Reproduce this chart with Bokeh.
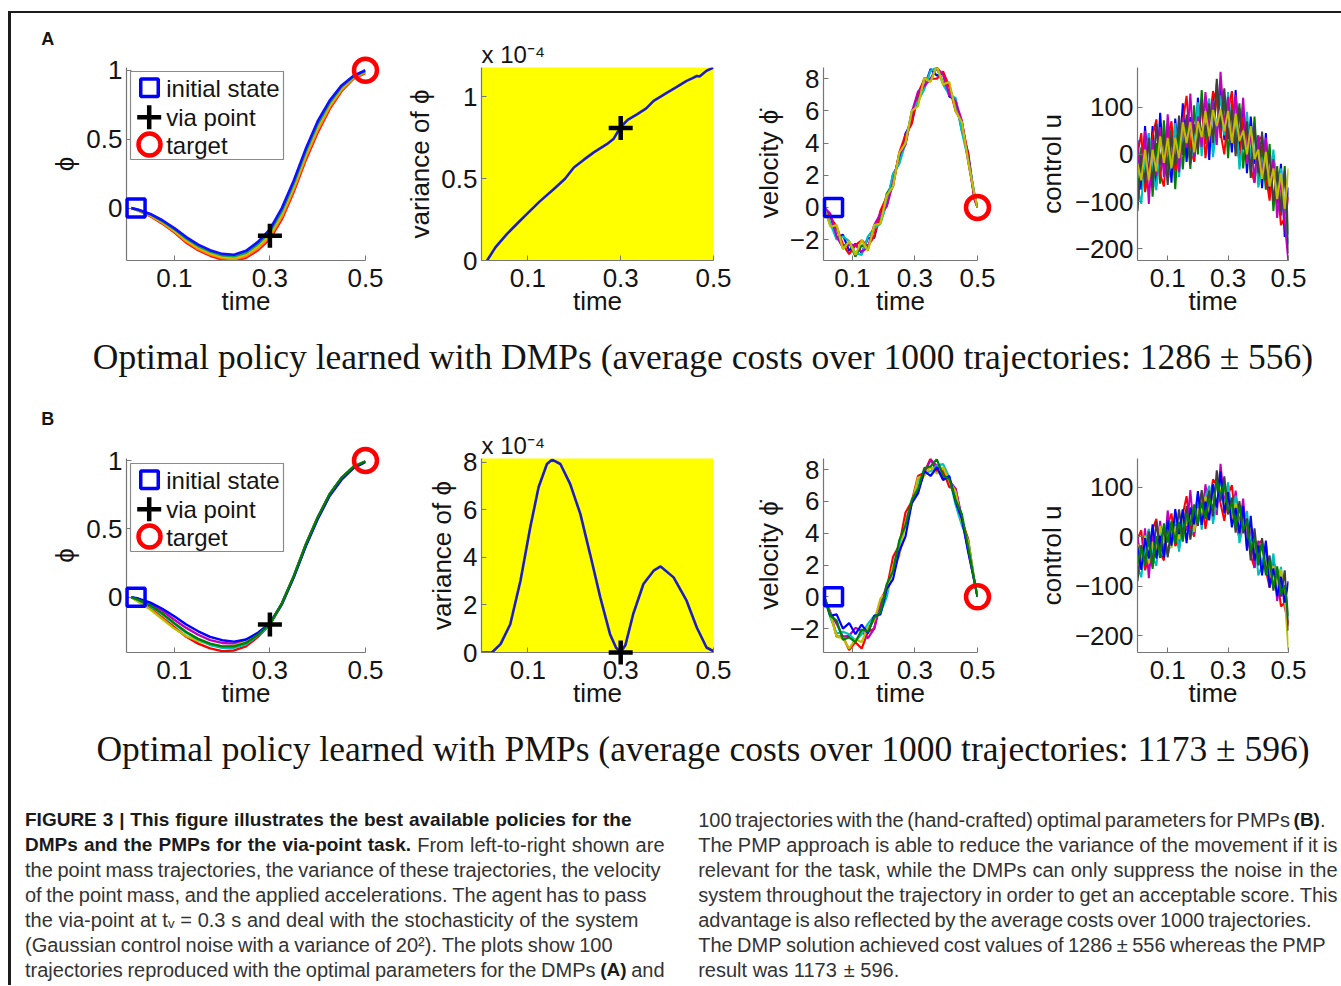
from bokeh.plotting import figure
from bokeh.models import (Range1d, Label, BoxAnnotation, FixedTicker, CustomJSTickFormatter,
                          Spacer, ColumnDataSource)
from bokeh.layouts import row, column
from bokeh.core.properties import value
from bokeh.embed import file_html
from bokeh.resources import INLINE

# ======================= DATA =======================
time_ticks = [0.1, 0.3, 0.5]

# --- position phi (rows A and B) ---
phi_t = [0.01, 0.025, 0.05, 0.075, 0.1, 0.125, 0.15, 0.175, 0.2, 0.225, 0.25,
         0.275, 0.3, 0.325, 0.35, 0.375, 0.4, 0.425, 0.45, 0.475, 0.5]
phi_A_blue = [0, -0.012, -0.042, -0.088, -0.145, -0.21, -0.265, -0.305, -0.332, -0.338, -0.31,
              -0.245, -0.155, 0.0, 0.2, 0.43, 0.63, 0.78, 0.89, 0.96, 1.0]
phi_A_green = [0, -0.014, -0.046, -0.094, -0.152, -0.22, -0.275, -0.315, -0.342, -0.349, -0.323,
               -0.26, -0.172, -0.02, 0.18, 0.41, 0.61, 0.765, 0.88, 0.955, 0.995]
phi_A_yellow = [0, -0.015, -0.05, -0.10, -0.16, -0.23, -0.285, -0.325, -0.352, -0.36, -0.335,
                -0.275, -0.19, -0.04, 0.16, 0.39, 0.59, 0.75, 0.87, 0.95, 0.99]
phi_A_orange = [0, -0.016, -0.054, -0.106, -0.168, -0.24, -0.295, -0.335, -0.362, -0.371, -0.347,
                -0.29, -0.208, -0.06, 0.14, 0.37, 0.57, 0.735, 0.86, 0.945, 0.985]
phi_A_red = [0, -0.018, -0.058, -0.112, -0.175, -0.25, -0.305, -0.345, -0.372, -0.382, -0.36,
             -0.305, -0.225, -0.08, 0.12, 0.35, 0.55, 0.72, 0.85, 0.94, 0.98]

phi_B_red = [0, -0.03, -0.08, -0.15, -0.22, -0.29, -0.34, -0.375, -0.395, -0.39, -0.36,
             -0.29, -0.2, -0.055, 0.15, 0.38, 0.58, 0.75, 0.87, 0.95, 0.99]
phi_B_magenta = [0, -0.015, -0.05, -0.10, -0.165, -0.225, -0.275, -0.315, -0.335, -0.34, -0.32,
                 -0.265, -0.195, -0.045, 0.155, 0.385, 0.585, 0.755, 0.875, 0.955, 0.995]
phi_B_blue = [0, -0.01, -0.04, -0.085, -0.14, -0.2, -0.25, -0.29, -0.315, -0.325, -0.31,
              -0.26, -0.19, -0.05, 0.145, 0.37, 0.57, 0.74, 0.86, 0.945, 0.99]
phi_B_yellow = [0, -0.035, -0.09, -0.16, -0.23, -0.285, -0.32, -0.345, -0.36, -0.355, -0.325,
                -0.27, -0.195, -0.05, 0.15, 0.38, 0.58, 0.75, 0.87, 0.95, 0.99]
phi_B_cyan = [0, -0.02, -0.065, -0.125, -0.195, -0.26, -0.31, -0.35, -0.37, -0.37, -0.345,
              -0.28, -0.2, -0.05, 0.15, 0.38, 0.58, 0.75, 0.87, 0.95, 0.99]
phi_B_green = [0, -0.02, -0.06, -0.12, -0.19, -0.255, -0.305, -0.34, -0.36, -0.36, -0.335,
               -0.275, -0.195, -0.045, 0.155, 0.385, 0.585, 0.755, 0.875, 0.955, 0.995]

start_t = [0.02]
start_phi = [0.0]
via_t = [0.3]
via_phi = [-0.2]
target_t = [0.5]
target_phi = [1.0]

# --- variance of phi (units of 1e-4) ---
var_A_t = [0.012, 0.03, 0.055, 0.075, 0.098, 0.125, 0.156, 0.18, 0.199, 0.22, 0.242, 0.27, 0.285,
           0.299, 0.315, 0.335, 0.355, 0.371, 0.4, 0.42, 0.442, 0.455, 0.464, 0.47, 0.485, 0.5]
var_A = [0.0, 0.08, 0.163, 0.22, 0.285, 0.36, 0.437, 0.50, 0.569, 0.615, 0.661, 0.711, 0.745,
         0.813, 0.86, 0.894, 0.93, 0.976, 1.027, 1.06, 1.098, 1.115, 1.128, 1.125, 1.16, 1.179]
var_B_t = [0.0, 0.023, 0.041, 0.062, 0.084, 0.105, 0.123, 0.141, 0.152, 0.170, 0.191, 0.213, 0.234,
           0.256, 0.277, 0.29, 0.30, 0.31, 0.327, 0.349, 0.371, 0.386, 0.414, 0.442, 0.464, 0.485, 0.5]
var_B = [0.0, 0.01, 0.35, 1.19, 3.02, 5.26, 6.95, 7.93, 8.11, 7.93, 7.09, 5.83, 4.14,
         2.32, 0.77, 0.2, 0.02, 0.3, 1.62, 2.88, 3.44, 3.62, 3.16, 2.18, 1.05, 0.21, 0.05]
var_via_A = [0.81]
var_via_B = [0.0]

# --- velocity ---
vel_t = [0.01, 0.03, 0.05, 0.07, 0.09, 0.11, 0.13, 0.15, 0.17, 0.19, 0.21, 0.23, 0.25,
         0.27, 0.29, 0.31, 0.33, 0.35, 0.37, 0.39, 0.41, 0.43, 0.45, 0.47, 0.49, 0.5]
vel_A_blue = [0, -0.5, -1.9, -1.7, -2.7, -2.25, -2.85, -1.9, -1.9, -0.3, 0.15, 2.0, 2.8,
              4.6, 5.3, 7.0, 7.45, 8.6, 8.2, 8.35, 6.9, 6.7, 4.8, 3.4, 0.6, 0.0]
vel_A_green = [0, -1.1, -1.3, -2.4, -2.2, -3.05, -2.35, -2.6, -1.2, -0.9, 0.85, 1.5, 3.3,
               4.0, 5.8, 6.5, 8.05, 7.9, 8.7, 7.75, 7.6, 6.1, 5.3, 3.0, 0.8, 0.0]
vel_A_red = [0, -0.6, -1.2, -2.3, -2.9, -2.35, -2.05, -2.4, -1.8, -0.2, 0.65, 1.3, 3.4,
             4.5, 5.2, 7.1, 7.95, 8.0, 8.0, 8.45, 7.5, 6.0, 5.3, 3.3, 0.5, 0.0]
vel_A_cyan = [0, -1.0, -2.0, -1.8, -2.1, -2.85, -2.95, -1.8, -1.3, -1.0, 0.25, 2.1, 2.7,
              4.0, 6.0, 6.6, 7.35, 8.5, 8.7, 7.65, 7.0, 6.8, 4.7, 3.0, 0.9, 0.0]
vel_A_magenta = [0, -0.4, -1.8, -2.5, -2.3, -2.35, -2.75, -2.5, -1.1, -0.4, 0.05, 1.5, 3.3,
                 3.9, 5.9, 7.2, 7.55, 8.0, 8.7, 8.25, 7.0, 6.6, 5.4, 2.9, 0.7, 0.0]
vel_A_yellow = [0, -1.2, -1.1, -2.6, -2.1, -2.95, -2.05, -2.7, -1.1, -1.0, 0.75, 1.3, 3.4,
                4.0, 6.0, 6.3, 8.05, 7.8, 8.8, 7.65, 7.8, 6.0, 5.3, 2.9, 0.8, 0.0]

vel_B_red = [0, -1.0, -2.5, -2.5, -3.35, -2.85, -3.25, -2.2, -2.0, -0.2, 0.5, 2.5, 3.25,
             5.3, 6.0, 7.6, 7.8, 8.7, 7.85, 7.95, 6.9, 6.8, 4.8, 3.65, 1.0, 0]
vel_B_blue = [0, -1.2, -1.1, -2.0, -1.65, -2.35, -1.75, -2.3, -1.2, -1.1, 0.5, 1.1, 2.85,
              3.8, 5.9, 6.5, 7.9, 7.6, 8.15, 7.35, 7.6, 6.0, 4.9, 2.85, 1.0, 0]
vel_B_magenta = [0, -1.0, -1.7, -2.5, -2.45, -1.95, -2.15, -2.6, -2.0, -0.5, 0.7, 1.7, 2.95,
                 4.7, 5.9, 6.7, 7.8, 8.6, 8.25, 7.55, 7.3, 6.8, 5.0, 2.95, 1.0, 0]
vel_B_cyan = [0, -1.3, -2.3, -2.2, -2.35, -2.75, -2.35, -1.7, -1.2, -1.0, 0.0, 1.9, 3.25,
              4.5, 5.9, 7.3, 7.8, 7.9, 8.25, 8.35, 7.5, 5.8, 4.5, 3.55, 1.0, 0]
vel_B_yellow = [0, -1.1, -2.5, -2.6, -3.25, -2.65, -2.85, -1.9, -1.5, -0.1, 0.3, 1.9, 2.55,
                4.7, 5.8, 7.5, 7.6, 8.2, 7.75, 8.15, 7.3, 6.6, 4.7, 3.45, 1.0, 0]
vel_B_green = [0, -1.2, -1.5, -2.7, -2.55, -2.85, -2.05, -2.2, -1.3, -1.0, 0.8, 1.6, 3.55,
               4.5, 6.1, 6.8, 8.1, 8.2, 8.65, 7.65, 7.4, 6.1, 5.2, 3.15, 1.0, 0]

vel_start_t = [0.04]
vel_start = [0.0]
vel_end_t = [0.5]
vel_end = [0.0]

# --- control u ---
ctrl_t = [0.0, 0.0125, 0.025, 0.0375, 0.05, 0.0625, 0.075, 0.0875, 0.1, 0.1125, 0.125,
          0.1375, 0.15, 0.1625, 0.175, 0.1875, 0.2, 0.2125, 0.225, 0.2375, 0.25, 0.2625,
          0.275, 0.2875, 0.3, 0.3125, 0.325, 0.3375, 0.35, 0.3625, 0.375, 0.3875, 0.4,
          0.4125, 0.425, 0.4375, 0.45, 0.4625, 0.475, 0.4875, 0.5]
ctrl_A_blue = [30, -75, 60, -55, 60, -66, 88, -28, 55, -60, 76, -18, 108, -16, 79, -16, 120, 26, 122, -12,
               124, 40, 155, 30, 102, 4, 136, 8, 90, -40, 80, -20, 40, -72, 45, -88, -20, -105, -20, -175, -70]
ctrl_A_green = [-100, 15, -70, 45, -90, 24, -62, 72, -35, 60, -74, 62, -32, 64, -31, 104, 0, 136, 22, 98,
                14, 150, 35, 120, -8, 114, 26, 108, -30, 70, -30, 80, -60, 18, -75, 22, -120, -25, -130, -25, -170]
ctrl_A_red = [0, 45, -80, -35, 40, 74, -42, -68, 35, 70, -34, -8, 68, 124, 19, -16, 70, 106, -8, 58,
              134, 110, 45, 0, 92, 134, 26, -12, 80, 50, -30, -60, 30, 38, -45, -98, -10, -55, -150, -135, -90]
ctrl_A_cyan = [-70, -105, 0, 45, -40, -76, 38, 22, -55, -10, 66, -48, 38, 74, -11, 14, 110, -4, 92, 118,
               -6, 60, 125, 40, 132, 44, 106, -32, 30, 90, -10, 50, -70, -32, 25, -68, 10, -85, -30, -125, -190]
ctrl_A_magenta = [20, -55, 50, -105, 30, -46, 58, -48, 85, -20, 36, -38, 78, 14, 129, -6, 80, 16, 132, 38,
                  114, 20, 175, 60, 122, 24, 126, 28, 120, -20, 50, -60, 40, -52, 35, -58, -10, -135, -50, -145, -230]
ctrl_A_gray = [-120, -5, -60, 35, -70, 64, -22, 42, -65, 40, -24, 82, -2, 84, -21, 64, 10, 116, 42, 108,
               24, 160, 55, 140, 32, 94, -4, 98, 10, 70, -50, 60, -40, 48, -55, 2, -100, -35, -120, -35, -210]
ctrl_A_yellow = [-20, -55, 10, -55, 10, -36, 38, -18, 35, -30, 36, -8, 68, 24, 69, 4, 70, 36, 92, 38,
                 94, 60, 95, 50, 92, 24, 86, 28, 50, 0, 60, -10, 10, -52, 5, -68, -30, -95, -40, -115, -30]

ctrl_B_red = [-5, 13, -68, -39, 15, 36, -33, -48, 23, 47, -19, -5, 45, 82, 19, 0, 62, 89, 16, 63,
              116, 104, 67, 32, 85, 104, 28, -3, 52, 27, -38, -63, -13, -8, -68, -103, -49, -80, -141, -133, -180]
ctrl_B_magenta = [0, -52, 17, -84, 5, -39, 32, -38, 53, -13, 26, -25, 55, 12, 94, 5, 67, 29, 106, 48,
                  101, 44, 147, 67, 105, 34, 93, 22, 77, -23, 17, -63, -8, -68, -13, -78, -49, -130, -76, -143, -175]
ctrl_B_cyan = [-60, -82, -13, 16, -40, -59, 17, 12, -37, -8, 46, -30, 25, 52, -1, 20, 87, 14, 81, 103,
               26, 69, 117, 57, 110, 44, 83, -13, 22, 52, -23, 7, -78, -58, -18, -83, -34, -100, -61, -128, -165]
ctrl_B_yellow = [-15, -52, 2, -54, -10, -39, 22, -13, 23, -23, 21, -5, 50, 22, 54, 10, 57, 39, 81, 48,
                 91, 69, 97, 62, 85, 29, 68, 22, 32, -8, 27, -33, -28, -73, -33, -83, -59, -105, -66, -123, -230]
ctrl_B_gray = [-90, -17, -53, 11, -60, 31, -23, 22, -42, 27, -14, 55, 0, 62, -6, 55, 22, 94, 46, 93,
               41, 134, 72, 122, 45, 79, 8, 72, 7, 37, -48, 17, -58, -3, -73, -38, -109, -65, -121, -68, -190]
ctrl_B_blue = [-20, -67, -3, -44, 25, -44, 2, -43, 33, -18, 56, 5, 55, -13, 59, 25, 92, 24, 71, 33,
               106, 59, 132, 47, 90, 19, 58, 7, 62, -28, 42, -48, -18, -78, -8, -103, -64, -120, -81, -133, -90]
ctrl_B_green = [-55, -22, -58, -4, -65, 1, -43, 27, -12, 32, -14, 30, -10, 47, 24, 65, 27, 69, 36, 78,
                56, 114, 82, 107, 50, 69, 18, 62, 12, 32, -28, -3, -53, -13, -78, -48, -104, -60, -116, -98, -160]

legend_labels = ["initial state", "via point", "target"]
panel_letters = ["A", "B"]
variance_scale = "x 10\u207b\u2074"

title_A = "Optimal policy learned with DMPs (average costs over 1000 trajectories: 1286 \u00b1 556)"
title_B = "Optimal policy learned with PMPs (average costs over 1000 trajectories: 1173 \u00b1 596)"

caption_left = [
    ("**FIGURE 3 | This figure illustrates the best available policies for the**", 631),
    ("**DMPs and the PMPs for the via-point task.** From left-to-right shown are", 664),
    ("the point mass trajectories, the variance of these trajectories, the velocity", 660),
    ("of the point mass, and the applied accelerations. The agent has to pass", 646),
    ("the via-point at t\u1d65 = 0.3 s and deal with the stochasticity of the system", 638),
    ("(Gaussian control noise with a variance of 20\u00b2). The plots show 100", 612),
    ("trajectories reproduced with the optimal parameters for the DMPs **(A)** and", 664),
]
caption_right = [
    ("100 trajectories with the (hand-crafted) optimal parameters for PMPs **(B)**.", 1325),
    ("The PMP approach is able to reduce the variance of the movement if it is", 1337),
    ("relevant for the task, while the DMPs can only suppress the noise in the", 1337),
    ("system throughout the trajectory in order to get an acceptable score. This", 1337),
    ("advantage is also reflected by the average costs over 1000 trajectories.", 1311),
    ("The DMP solution achieved cost values of 1286 \u00b1 556 whereas the PMP", 1325),
    ("result was 1173 \u00b1 596.", None),
]

# ======================= STYLE =======================
SANS = "Liberation Sans"
SERIF = "Liberation Serif"
INK = "#141414"
AX = "#767676"
BAR = "#1c1c1c"
C_B, C_G, C_R, C_C, C_M, C_Y, C_K = "#0000ff", "#008000", "#ff0000", "#00bfbf", "#bf00bf", "#bfbf00", "#404040"
FMT = "return (tick < 0 ? '\u2212' : '') + String(Math.abs(tick));"


def panel(w, h, bl, br, bt, bb, xr, yr, yticks, ylabel, bg="#ffffff", ylab_standoff=3):
    p = figure(width=w, height=h, x_range=Range1d(*xr), y_range=Range1d(*yr),
               output_backend="svg", toolbar_location=None,
               min_border_left=bl, min_border_right=br, min_border_top=bt, min_border_bottom=bb,
               background_fill_color=bg, border_fill_color="#ffffff", outline_line_color=None)
    p.grid.visible = False
    for ax in (p.xaxis[0], p.yaxis[0]):
        ax.axis_line_color = AX
        ax.axis_line_width = 1.2
        ax.major_tick_line_color = AX
        ax.major_tick_in = 5
        ax.major_tick_out = 0
        ax.minor_tick_line_color = None
        ax.major_label_text_font = SANS
        ax.major_label_text_font_size = "26px"
        ax.major_label_text_color = INK
        ax.axis_label_text_font = SANS
        ax.axis_label_text_font_size = "26px"
        ax.axis_label_text_font_style = "normal"
        ax.axis_label_text_color = INK
        ax.formatter = CustomJSTickFormatter(code=FMT)
    p.xaxis[0].ticker = FixedTicker(ticks=time_ticks)
    p.xaxis[0].axis_label = "time"
    p.xaxis[0].major_label_standoff = 8
    p.xaxis[0].axis_label_standoff = -4
    p.yaxis[0].ticker = FixedTicker(ticks=yticks)
    p.yaxis[0].axis_label = ylabel
    p.yaxis[0].major_label_standoff = 4
    p.yaxis[0].axis_label_standoff = ylab_standoff
    return p


def set_title(p, text, size, offset, standoff):
    p.title.text = text
    p.title.align = "left"
    p.title.offset = offset
    p.title.standoff = standoff
    p.title.text_font = SANS
    p.title.text_font_size = size
    p.title.text_font_style = "normal"
    p.title.text_color = INK


def start_mark(p, xs, ys):
    p.scatter(xs, ys, marker="square", size=18, fill_color=None, line_color=C_B, line_width=3.5, level="overlay")


def via_mark(p, xs, ys):
    p.scatter(xs, ys, marker="cross", size=24, line_color="#000000", line_width=4.5, level="overlay")


def target_mark(p, xs, ys):
    p.scatter(xs, ys, marker="circle", size=23, fill_color=None, line_color=C_R, line_width=4.5, level="overlay")


def scr_box(p, l, r, b, t, **kw):
    p.add_layout(BoxAnnotation(left=l, right=r, bottom=b, top=t, left_units="screen", right_units="screen",
                               bottom_units="screen", top_units="screen", level="overlay", **kw))


def add_legend(p):
    scr_box(p, 4, 157, 101, 189, fill_color="#ffffff", fill_alpha=1.0, line_color="#8a8a8a",
            line_alpha=1.0, line_width=1.2)
    scr_box(p, 14.25, 31.75, 164, 181.5, fill_alpha=0.0, line_color=C_B, line_alpha=1.0, line_width=3.5)
    scr_box(p, 10.7, 34.7, 141.05, 145.55, fill_color="#000000", fill_alpha=1.0, line_alpha=0.0)
    scr_box(p, 20.45, 24.95, 131.3, 155.3, fill_color="#000000", fill_alpha=1.0, line_alpha=0.0)
    scr_box(p, 12, 34, 105, 127, fill_alpha=0.0, line_color=C_R, line_alpha=1.0, line_width=4.5,
            border_radius=11)
    for lab, y in zip(legend_labels, [171.7, 143.3, 115.0]):
        p.add_layout(Label(x=39.7, y=y, x_units="screen", y_units="screen", text=lab, text_font=SANS,
                           text_font_size="24px", text_color=INK, text_baseline="middle", level="overlay"))


def text_fig(w, h):
    p = figure(width=w, height=h, x_range=Range1d(0, w), y_range=Range1d(h, 0),
               x_axis_type=None, y_axis_type=None, output_backend="svg", toolbar_location=None,
               min_border=0, outline_line_color=None, background_fill_color="#ffffff",
               border_fill_color="#ffffff")
    p.grid.visible = False
    return p


def letter_block(total_w, h, letter, x, ymid):
    lw = 70
    p = text_fig(lw, h)
    p.add_layout(Label(x=x, y=ymid, text=letter, text_font=SANS, text_font_style="bold",
                       text_font_size="18px", text_color=INK, text_baseline="middle", text_align="left"))
    return row(p, Spacer(width=total_w - lw, height=h))


PHI = "\u03d5"

# ======================= ROW A =======================
HA, TA, BA = 312, 54, 65
LA = 42
pA1 = panel(389, HA - LA, 115, 35, TA - LA, BA, (0, 0.5), (-0.38, 1.02), [0, 0.5, 1], PHI)
for ys, c in [(phi_A_red, "#ff1010"), (phi_A_orange, "#ff8c00"), (phi_A_yellow, "#d2c200"),
              (phi_A_green, "#13a05a"), (phi_A_blue, "#1010ff")]:
    pA1.line(phi_t, ys, line_color=c, line_width=2.6)
start_mark(pA1, start_t, start_phi)
via_mark(pA1, via_t, via_phi)
target_mark(pA1, target_t, target_phi)
add_legend(pA1)
colA1 = column(letter_block(389, LA, panel_letters[0], 29.7, 25.5), pA1)

pA2 = panel(345, HA, 81, 32, TA, BA, (0, 0.5), (0, 1.18), [0, 0.5, 1], "variance of " + PHI, bg="#ffff00")
pA2.line(var_A_t, var_A, line_color="#1c1cc8", line_width=2.6)
via_mark(pA2, via_t, var_via_A)
set_title(pA2, variance_scale, "24px", 0, 0)

pA3 = panel(288, HA, 78, 56, TA, BA, (0.008, 0.5), (-3.3, 8.7), [-2, 0, 2, 4, 6, 8], "velocity " + PHI + "\u0307")
for ys, c in [(vel_A_blue, C_B), (vel_A_green, C_G), (vel_A_red, C_R), (vel_A_cyan, C_C),
              (vel_A_magenta, C_M), (vel_A_yellow, C_Y)]:
    pA3.line(vel_t, ys, line_color=c, line_width=2.2)
start_mark(pA3, vel_start_t, vel_start)
target_mark(pA3, vel_end_t, vel_end)

pA4 = panel(300, HA, 100, 45, TA, BA, (0, 0.5), (-225, 184), [-200, -100, 0, 100], "control u", ylab_standoff=5)
for ys, c in [(ctrl_A_blue, C_B), (ctrl_A_green, C_G), (ctrl_A_red, C_R), (ctrl_A_cyan, C_C),
              (ctrl_A_magenta, C_M), (ctrl_A_gray, C_K), (ctrl_A_yellow, C_Y)]:
    pA4.line(ctrl_t, ys, line_color=c, line_width=2.0)

# ======================= ROW B =======================
HB, TB, BB = 322, 63, 65
LB = 49
pB1 = panel(389, HB - LB, 115, 35, TB - LB, BB, (0, 0.5), (-0.405, 1.015), [0, 0.5, 1], PHI)
for ys, c in [(phi_B_red, C_R), (phi_B_magenta, C_M), (phi_B_yellow, C_Y), (phi_B_cyan, C_C),
              (phi_B_blue, C_B), (phi_B_green, C_G)]:
    pB1.line(phi_t, ys, line_color=c, line_width=2.4)
start_mark(pB1, start_t, start_phi)
via_mark(pB1, via_t, via_phi)
target_mark(pB1, target_t, target_phi)
add_legend(pB1)
colB1 = column(letter_block(389, LB, panel_letters[1], 29.7, 23.5), pB1)

pB2 = panel(345, HB, 81, 32, TB, BB, (0, 0.5), (0, 8.16), [0, 2, 4, 6, 8], "variance of " + PHI, bg="#ffff00")
pB2.line(var_B_t, var_B, line_color="#1c1cc8", line_width=2.6)
via_mark(pB2, via_t, var_via_B)
set_title(pB2, variance_scale, "24px", 0, 0)

pB3 = panel(288, HB, 78, 56, TB, BB, (0.008, 0.5), (-3.5, 8.7), [-2, 0, 2, 4, 6, 8], "velocity " + PHI + "\u0307")
for ys, c in [(vel_B_red, C_R), (vel_B_magenta, C_M), (vel_B_cyan, C_C), (vel_B_yellow, C_Y),
              (vel_B_blue, C_B), (vel_B_green, C_G)]:
    pB3.line(vel_t, ys, line_color=c, line_width=2.2)
start_mark(pB3, vel_start_t, vel_start)
target_mark(pB3, vel_end_t, vel_end)

pB4 = panel(300, HB, 100, 45, TB, BB, (0, 0.5), (-234, 158), [-200, -100, 0, 100], "control u", ylab_standoff=5)
for ys, c in [(ctrl_B_red, C_R), (ctrl_B_magenta, C_M), (ctrl_B_cyan, C_C), (ctrl_B_yellow, C_Y),
              (ctrl_B_gray, C_K), (ctrl_B_blue, C_B), (ctrl_B_green, C_G)]:
    pB4.line(ctrl_t, ys, line_color=c, line_width=2.0)

# ======================= TEXT BLOCKS =======================
W = 1322
WC = 1330
tA = text_fig(W, 70)
tA.add_layout(Label(x=691.5, y=31.7, text=title_A, text_font=SERIF, text_font_size="35.5px", text_color=INK,
                    text_align="center", text_baseline="middle"))
tB = text_fig(W, 68)
tB.add_layout(Label(x=691.5, y=31.7, text=title_B, text_font=SERIF, text_font_size="35.5px", text_color=INK,
                    text_align="center", text_baseline="middle"))

# Arial / Liberation Sans advance widths (per 1000 em) used to justify the caption lines
REG = dict(zip("abcdefghijklmnopqrstuvwxyz",
               [556, 556, 500, 556, 556, 278, 556, 556, 222, 222, 500, 222, 833, 556, 556, 556, 556, 333,
                500, 278, 556, 500, 722, 500, 500, 500]))
REG.update({"A": 667, "B": 667, "C": 722, "D": 722, "E": 667, "F": 611, "G": 778, "H": 722, "I": 278,
            "M": 833, "P": 667, "R": 722, "S": 667, "T": 611, "U": 722, " ": 278, ".": 278, ",": 278,
            "(": 333, ")": 333, "-": 333, "|": 260, ":": 278, "\u00b1": 549, "\u00b2": 333, "=": 584,
            "\u1d65": 330})
BLD = dict(zip("abcdefghijklmnopqrstuvwxyz",
               [556, 611, 556, 611, 556, 333, 611, 611, 278, 278, 556, 278, 889, 611, 611, 611, 611, 389,
                556, 333, 611, 556, 778, 556, 556, 500]))
BLD.update({"A": 722, "B": 722, "D": 722, "E": 667, "F": 611, "G": 778, "I": 278, "M": 833, "P": 667,
            "R": 722, "T": 611, "U": 722, " ": 278, ".": 278, ",": 278, "(": 333, ")": 333, "-": 333,
            "|": 280, ":": 333})
for d in "0123456789":
    REG[d] = 556
    BLD[d] = 556
SZ_R, SZ_B = 20.0, 19.0


def tw(text, bold):
    tab, sz = (BLD, SZ_B) if bold else (REG, SZ_R)
    return sum(tab.get(ch, 556) for ch in text) * sz / 1000.0


def parse(line):
    toks, bold = [], False
    for word in line.split(" "):
        pieces = []
        for j, part in enumerate(word.split("**")):
            if j > 0:
                bold = not bold
            if part:
                pieces.append((part, bold))
        toks.append(pieces)
    return toks


OFFX = 11.0
reg = dict(x=[], y=[], text=[])
bld = dict(x=[], y=[], text=[])


def lay(lines, x0_page):
    for i, (line, x1_page) in enumerate(lines):
        toks = parse(line)
        widths = [sum(tw(t, b) for t, b in tok) for tok in toks]
        if x1_page is None:
            gap = REG[" "] * SZ_R / 1000.0
        else:
            gap = ((x1_page - x0_page) - sum(widths)) / (len(toks) - 1)
        x = x0_page - OFFX
        for tok, w in zip(toks, widths):
            xx = x
            for t, b in tok:
                d = bld if b else reg
                d["x"].append(xx)
                d["y"].append((34.4 if b else 34.1) + 25 * i)
                d["text"].append(t)
                xx += tw(t, b)
            x += w + gap


lay(caption_left, 24.5)
lay(caption_right, 697.7)

cap = text_fig(WC, 200)
cap.text(x="x", y="y", text="text", source=ColumnDataSource(reg), text_font=value(SANS),
         text_font_size=value("20px"), text_color="#333333", text_baseline="middle", text_align="left")
cap.text(x="x", y="y", text="text", source=ColumnDataSource(bld), text_font=value(SANS),
         text_font_size=value("19px"), text_font_style="bold", text_color="#1a1a1a",
         text_baseline="middle", text_align="left")

# ======================= LAYOUT =======================
left_bar = column(Spacer(width=3, height=3),
                  Spacer(width=3, height=974, styles={"background-color": BAR}))
main = column(Spacer(width=WC, height=3),
              Spacer(width=WC, height=2, styles={"background-color": BAR}),
              row(colA1, pA2, pA3, pA4),
              tA,
              row(colB1, pB2, pB3, pB4),
              tB,
              cap)
root = column(Spacer(width=1341, height=8), row(Spacer(width=8, height=977), left_bar, main))

open("out.html", "w").write(file_html(root, INLINE))
